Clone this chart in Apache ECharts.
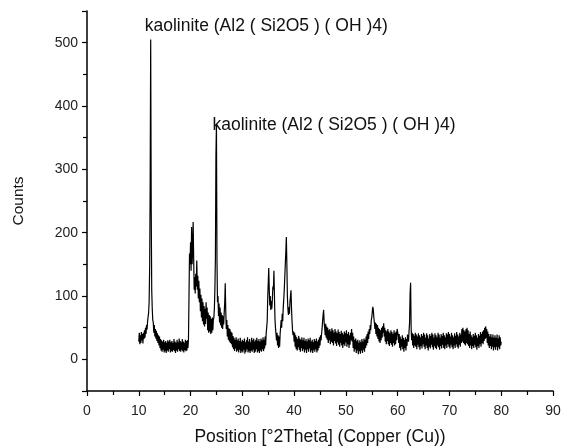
<!DOCTYPE html>
<html>
<head>
<meta charset="utf-8">
<script src="https://cdn.jsdelivr.net/npm/echarts@6/dist/echarts.min.js"></script>
<style>
html,body{margin:0;padding:0;background:#fff;}
#chart{width:563px;height:446px;}
</style>
</head>
<body>
<div id="chart"></div>
<script>
// Scan grid: 2Theta from 10.0 to 80.0 in 0.1 degree steps
var thetaStart = 10.0;
var thetaStep = 0.1;

// Counts, one block per 10 degrees
var counts10to20 = [
  28,42,24,38,26,43,30,40,25,42,
  32,46,34,50,40,54,47,60,62,74,
  90,145,275,505,240,110,80,62,58,42,
  54,36,48,33,45,29,41,26,38,22,
  36,18,32,14,30,12,28,15,31,11,
  27,13,29,10,26,14,30,12,28,16,
  31,11,27,13,29,12,26,15,32,13,
  28,10,26,14,31,12,27,16,33,13,
  29,12,27,15,32,13,28,11,26,15,
  31,13,29,14,30,18,33,100,167,150
];
var counts20to30 = [
  185,140,209,150,172,217,160,110,130,104,
  135,115,156,110,132,96,124,90,112,76,
  102,66,96,60,90,55,84,52,80,56,
  90,64,82,46,74,42,70,44,68,40,
  64,42,66,46,62,66,80,110,160,320,
  372,160,90,100,68,88,58,82,54,74,
  50,70,48,68,55,74,90,120,75,48,
  62,36,54,31,49,28,48,26,44,24,
  42,19,37,16,34,13,31,17,35,12,
  30,14,33,11,29,15,34,10,28,13
];
var counts30to40 = [
  31,11,29,15,33,9,27,12,30,16,
  35,11,28,13,32,10,27,14,34,12,
  30,15,33,10,28,12,31,16,34,11,
  29,13,32,10,28,14,33,12,30,16,
  35,13,31,17,36,22,40,40,60,95,
  120,144,110,85,100,78,92,80,95,115,
  110,140,100,65,50,40,30,42,22,38,
  18,36,20,40,42,62,50,72,60,82,
  95,110,130,150,170,193,150,100,80,70,
  82,72,90,100,109,80,60,45,38,44
];
var counts40to50 = [
  28,42,20,38,16,35,14,32,19,37,
  15,33,12,31,18,35,13,30,16,34,
  11,29,15,32,10,28,16,33,12,30,
  17,34,11,28,14,31,10,27,15,32,
  12,29,16,33,11,28,14,31,18,35,
  22,38,30,40,48,60,70,78,58,50,
  38,56,34,52,31,50,26,46,30,48,
  24,44,28,49,26,46,22,42,29,48,
  25,44,21,41,27,47,23,43,20,40,
  26,45,22,42,18,39,24,44,21,41
];
var counts50to60 = [
  27,46,20,40,24,43,18,38,23,42,
  30,48,28,42,18,36,12,31,16,33,
  10,29,14,31,8,26,13,30,9,27,
  14,32,10,28,15,33,12,31,18,36,
  22,40,26,44,32,48,40,54,46,62,
  66,75,83,78,66,58,48,58,40,56,
  36,54,32,50,28,48,26,46,30,50,
  34,52,42,57,36,50,28,46,24,44,
  29,48,24,44,21,41,26,46,23,43,
  20,40,26,46,22,42,24,44,30,48
];
var counts60to70 = [
  51,38,26,40,18,36,14,32,20,38,
  16,34,12,31,18,35,14,32,21,39,
  36,28,45,58,104,121,50,30,42,22,
  40,18,37,22,42,20,39,16,36,23,
  41,19,38,15,35,21,40,17,37,24,
  42,20,39,16,34,22,41,18,38,14,
  33,20,40,17,37,23,42,19,39,15,
  34,21,41,18,38,16,35,22,42,19,
  39,15,34,21,40,17,37,23,42,18,
  38,16,35,22,41,18,39,24,43,20
];
var counts70to80 = [
  40,17,36,23,42,19,38,16,35,22,
  41,18,37,24,43,20,39,17,36,23,
  42,20,39,26,48,28,50,26,46,24,
  44,22,48,26,50,24,46,21,40,18,
  44,22,38,16,35,21,40,18,37,23,
  42,19,38,15,34,21,40,18,37,24,
  43,20,40,26,44,24,46,29,50,32,
  52,34,48,26,44,22,40,18,36,21,
  40,16,35,20,39,14,34,19,38,15,
  34,20,39,14,33,19,38,16,35,22,
  28
];

var xTicks = [0,10,20,30,40,50,60,70,80,90];
var yTicks = [0,100,200,300,400,500];
var peakLabel = 'kaolinite (Al2 ( Si2O5 ) ( OH )4)';
var peakPositions = [12.3, 25.0];
var peakHeights = [505, 372];

var allCounts = [].concat(counts10to20, counts20to30, counts30to40, counts40to50,
                          counts50to60, counts60to70, counts70to80);
var seriesData = allCounts.map(function (c, i) {
  return [+(thetaStart + i * thetaStep).toFixed(1), c];
});

var FONT = '"Liberation Sans", Arial, sans-serif';
var chart = echarts.init(document.getElementById('chart'), null, {renderer: 'canvas'});
chart.setOption({
  animation: false,
  backgroundColor: '#ffffff',
  grid: {left: 87, right: 10, top: 11, bottom: 55, containLabel: false, outerBoundsMode: 'none'},
  xAxis: {
    type: 'value',
    min: xTicks[0], max: xTicks[xTicks.length - 1], interval: 10,
    name: 'Position [°2Theta] (Copper (Cu))',
    nameLocation: 'middle', nameGap: 37,
    nameTextStyle: {fontFamily: FONT, fontSize: 17.5, color: '#111'},
    axisLine: {show: true, onZero: false, lineStyle: {color: '#000', width: 1.5}},
    axisTick: {show: true, inside: false, length: 5, lineStyle: {color: '#000', width: 1.2}},
    minorTick: {show: true, splitNumber: 2, length: 4, lineStyle: {color: '#000', width: 1.2}},
    axisLabel: {fontFamily: FONT, fontSize: 14, color: '#222', margin: 13},
    splitLine: {show: false}
  },
  yAxis: {
    type: 'value',
    min: -50, max: 550, splitNumber: 6,
    name: 'Counts',
    nameLocation: 'middle', nameGap: 60, nameRotate: 90,
    nameTextStyle: {fontFamily: FONT, fontSize: 15.5, color: '#111'},
    axisLine: {show: true, onZero: false, lineStyle: {color: '#000', width: 1.5}},
    axisTick: {show: true, inside: false, length: 5, lineStyle: {color: '#000', width: 1.2}},
    minorTick: {show: true, splitNumber: 2, length: 4, lineStyle: {color: '#000', width: 1.2}},
    axisLabel: {
      fontFamily: FONT, fontSize: 14, color: '#222', margin: 9,
      formatter: function (v) { return yTicks.indexOf(v) >= 0 ? String(v) : ''; }
    },
    splitLine: {show: false}
  },
  series: [{
    type: 'line',
    data: seriesData,
    showSymbol: false,
    symbol: 'none',
    lineStyle: {color: '#000', width: 1.2},
    markPoint: {
      symbol: 'circle', symbolSize: 0,
      label: {show: true, fontFamily: FONT, fontSize: 17.5, color: '#111', formatter: peakLabel,
              position: 'inside', align: 'left', verticalAlign: 'middle'},
      data: [
        {coord: [peakPositions[0], peakHeights[0]], label: {offset: [-6, -13]}},
        {coord: [peakPositions[1], peakHeights[1]], label: {offset: [-4, 1]}}
      ]
    }
  }]
});
</script>
</body>
</html>
